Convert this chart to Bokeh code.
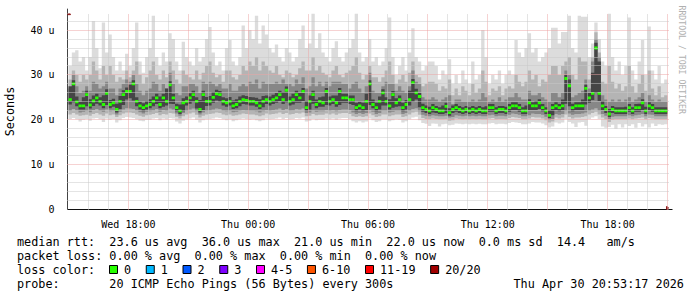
import numpy as np
import pandas as pd
from bokeh.plotting import figure
from bokeh.models import (Range1d, FixedTicker, DatetimeTickFormatter,
                          CustomJSTickFormatter, Title, Arrow, NormalHead)
from bokeh.layouts import column
from bokeh.embed import file_html
from bokeh.resources import INLINE
from bokeh.core.properties import value

# ------------------------------------------------------------------ data
FIRST_SAMPLE = "2026-04-29 15:00"      # 10-minute consolidated samples
STEP_MIN = 10
VIEW_START = "2026-04-29 14:57"
VIEW_END = "2026-04-30 21:03"
Y_MAX = 43.7

# median rtt (us) per sample
median = [
    24.5, 28.0, 24.0, 23.1, 23.1, 25.6, 23.3, 24.2, 24.9, 24.1, 23.4, 25.9,
    23.4, 23.8, 22.3, 24.1, 25.6, 26.3, 26.3, 28.0, 24.1, 23.1, 22.7, 23.1,
    23.4, 24.1, 24.9, 23.4, 24.9, 24.1, 27.8, 24.9, 22.7, 22.0, 23.8, 24.1,
    24.9, 25.6, 24.1, 22.3, 25.6, 24.1, 24.1, 25.0, 25.8, 25.6, 24.1, 23.8,
    24.1, 23.1, 23.4, 24.1, 24.5, 24.3, 24.1, 24.1, 23.8, 23.1, 24.1, 24.5,
    24.1, 24.5, 24.9, 25.6, 24.5, 26.6, 24.1, 24.5, 25.6, 24.9, 26.3, 22.7,
    24.1, 25.6, 23.4, 24.1, 23.8, 26.3, 24.1, 24.5, 23.8, 26.3, 24.9, 24.9,
    24.5, 24.5, 22.7, 23.1, 22.7, 24.1, 28.0, 23.4, 22.7, 24.1, 26.0, 24.1,
    23.1, 25.6, 23.8, 24.5, 22.7, 23.4, 24.5, 28.3, 26.0, 25.2, 22.7, 22.3,
    22.0, 22.7, 22.3, 22.0, 22.0, 23.0, 21.6, 22.3, 22.7, 22.3, 22.0, 22.3,
    22.0, 22.3, 22.0, 22.3, 22.0, 22.0, 22.7, 22.7, 22.0, 22.3, 22.3, 22.0,
    22.7, 23.1, 23.1, 22.7, 22.0, 22.0, 23.8, 23.1, 23.1, 23.8, 22.7, 22.0,
    21.0, 22.7, 23.1, 22.7, 23.1, 29.2, 27.6, 22.7, 23.1, 23.1, 23.1, 27.0,
    24.9, 25.9, 36.0, 25.9, 23.1, 22.3, 21.3, 22.3, 22.0, 22.0, 22.0, 22.0,
    22.7, 22.0, 22.7, 22.7, 23.8, 22.0, 23.1, 22.7, 22.0, 22.0, 22.0, 22.0,
]

# smoke: outermost band (slowest / fastest ping)
smoke_top1 = [
    32, 35, 35.5, 33, 34, 31, 34, 42, 36, 31.5, 41.7, 35,
    39, 34, 31, 33, 31, 34.7, 32, 36, 41.7, 33, 30.5, 34,
    36, 43.2, 34, 32, 35, 33, 39.3, 38, 33, 31, 37.4, 34,
    33, 32, 36, 33, 34, 38, 40.7, 35, 32, 33, 31, 36,
    37.8, 33, 32, 34, 41, 36, 40, 38, 43.2, 37, 41, 39,
    36, 35, 36.8, 34, 33, 36, 35, 33, 34, 38, 41, 36,
    37, 43.7, 36, 39.3, 35, 34, 33, 36, 37.5, 34, 33, 35,
    36, 38, 43.7, 35, 33, 34, 38, 33, 34, 32, 33, 36,
    42.8, 34, 30, 32, 34, 31, 35, 40.4, 34, 33, 31, 32,
    33, 33, 32, 29, 31, 30, 33.5, 28, 30, 28, 31, 29,
    28, 33, 29, 30, 40, 34, 28, 30, 29, 31, 28, 30,
    31, 30, 37.8, 35, 34, 36, 39.3, 35, 36, 33, 34, 35,
    36, 40.5, 40.5, 37, 39.6, 39.6, 43.2, 36, 35, 43.2, 43, 43,
    34, 37, 41.7, 38, 33, 32, 43.7, 34, 31, 33, 30, 32,
    42.8, 31, 29, 33, 37.8, 30, 40.8, 31, 29, 32, 28, 29,
]
smoke_bot1 = [
    20.2, 20.4, 20.1, 19.6, 20.0, 20.2, 19.8, 20.3, 20.4, 20.1, 19.5, 20.3,
    20.0, 20.2, 19.4, 19.9, 20.4, 20.6, 20.5, 20.4, 20.1, 19.8, 19.7, 20.0,
    20.0, 20.3, 20.4, 19.9, 20.3, 20.1, 20.4, 20.3, 19.6, 19.2, 19.8, 20.1,
    20.3, 20.5, 20.0, 19.4, 19.9, 20.1, 20.2, 20.3, 20.5, 20.4, 20.1, 19.9,
    20.1, 19.7, 19.9, 20.1, 20.3, 20.2, 20.0, 20.1, 19.9, 19.7, 19.9, 20.3,
    20.1, 20.2, 20.3, 20.5, 20.2, 20.4, 20.1, 20.2, 20.4, 20.3, 20.5, 19.6,
    19.8, 20.2, 19.9, 20.0, 20.0, 20.3, 20.1, 20.3, 20.0, 20.3, 20.4, 20.4,
    20.2, 19.7, 19.4, 19.7, 19.4, 19.6, 20.3, 19.9, 19.5, 19.7, 20.1, 20.1,
    19.7, 19.9, 20.1, 20.0, 19.4, 19.7, 20.1, 20.5, 20.7, 19.9, 19.3, 19.1,
    18.6, 19.2, 19.1, 18.5, 19.0, 19.1, 18.8, 18.9, 19.2, 19.1, 19.0, 19.1,
    19.0, 19.1, 19.0, 19.1, 19.0, 19.0, 19.2, 19.3, 19.0, 19.1, 19.1, 19.0,
    19.3, 19.5, 19.4, 19.3, 19.0, 19.0, 19.2, 19.5, 19.4, 19.4, 19.2, 18.8,
    18.3, 18.5, 19.4, 19.2, 19.4, 20.2, 19.5, 19.2, 18.4, 19.4, 19.5, 18.7,
    20.2, 20.5, 20.8, 20.2, 18.5, 18.2, 18.4, 18.9, 18.0, 19.0, 18.3, 19.0,
    18.6, 19.0, 18.2, 19.3, 18.5, 19.0, 18.3, 19.2, 18.6, 19.0, 18.9, 19.0,
]
# second band
smoke_top2 = [
    29, 31, 30, 28.5, 30, 29, 30, 33, 31, 29, 32, 30,
    32, 30, 28.5, 29.5, 29, 31, 29.5, 31, 33, 30, 28, 29.5,
    31, 33, 30, 29, 31, 29.5, 33, 31, 29, 28, 31, 30,
    29.5, 29, 31, 29, 30.5, 32, 33, 30.5, 29.5, 30, 28.5, 31,
    31, 29.5, 29, 30, 32, 31, 33, 32, 34, 31, 33, 32,
    31, 30.5, 32, 30, 29.5, 31, 30.5, 29.5, 30, 31.5, 33, 31,
    31, 34, 31, 32, 30.5, 30, 29.5, 31, 32, 30, 29.5, 30.5,
    31, 32, 34, 30.5, 29, 30, 32, 29.5, 29.5, 28.5, 29.5, 31,
    33, 30, 28, 29, 30, 28.5, 30.5, 33, 30, 29.5, 27.5, 28,
    28.5, 28.5, 28, 26.5, 27.5, 27, 29, 25.5, 27, 25.5, 27.5, 26.5,
    25.5, 28, 26, 27, 31, 28.5, 25.5, 27, 26.5, 27.5, 25.5, 27,
    27.5, 27, 30, 28.5, 27.5, 28.5, 31, 29, 30, 27.5, 29, 28.5,
    30, 32, 32, 30, 32, 33, 34, 30, 29, 34, 33, 33,
    29, 34, 39.5, 35, 28.5, 28, 32, 28.5, 27, 28, 26.5, 27.5,
    32, 27.5, 26, 28, 30, 26.5, 31, 27, 25.5, 27.5, 25, 25.5,
]
smoke_bot2 = [
    21.2, 21.5, 21.2, 20.9, 21.0, 21.1, 20.9, 21.3, 21.5, 21.2, 20.9, 21.4,
    21.0, 21.2, 20.6, 21.0, 21.4, 21.6, 21.6, 21.5, 21.2, 20.9, 20.7, 21.0,
    21.1, 21.3, 21.5, 21.0, 21.3, 21.2, 21.5, 21.4, 20.7, 20.3, 20.8, 21.2,
    21.4, 21.6, 21.1, 20.5, 20.9, 21.2, 21.3, 21.4, 21.6, 21.5, 21.2, 21.0,
    21.2, 20.9, 21.0, 21.2, 21.4, 21.3, 21.2, 21.2, 21.0, 20.8, 21.0, 21.4,
    21.2, 21.3, 21.4, 21.6, 21.3, 21.5, 21.2, 21.3, 21.5, 21.4, 21.6, 20.8,
    20.9, 21.3, 21.0, 21.1, 21.1, 21.4, 21.2, 21.4, 21.1, 21.4, 21.5, 21.5,
    21.3, 20.8, 20.6, 20.8, 20.6, 20.8, 21.4, 21.0, 20.6, 20.8, 21.2, 21.2,
    20.8, 21.0, 21.2, 21.2, 20.6, 20.8, 21.2, 21.6, 21.8, 21.1, 20.4, 20.2,
    20.1, 20.3, 20.2, 20.1, 20.1, 20.2, 19.8, 19.9, 20.3, 20.2, 20.1, 20.2,
    20.1, 20.2, 20.1, 20.2, 20.1, 20.1, 20.3, 20.4, 20.1, 20.2, 20.2, 20.1,
    20.4, 20.6, 20.5, 20.4, 20.1, 20.1, 20.3, 20.6, 20.5, 20.5, 20.3, 19.9,
    19.4, 19.6, 20.5, 20.3, 20.5, 21.2, 20.6, 20.3, 20.5, 20.5, 20.6, 20.8,
    21.2, 21.5, 21.8, 21.2, 20.5, 20.1, 19.5, 20.0, 20.1, 20.1, 20.1, 20.1,
    20.3, 20.1, 20.3, 20.4, 20.5, 20.1, 20.4, 20.3, 20.1, 20.1, 20.1, 20.1,
]
# third band
smoke_top3 = [
    27, 30, 27.5, 26, 26.5, 27.5, 26.5, 28.5, 28, 27, 27.5, 28.5,
    27, 27, 25.5, 27, 28, 29, 28.5, 30, 28, 26.5, 25.5, 26.5,
    27, 28.5, 28, 26.5, 28, 27, 30.5, 28, 26, 25.5, 27.5, 27.5,
    28, 28, 27.5, 26, 28.5, 28, 28.5, 28, 27.5, 28, 27, 27,
    28, 26.5, 26.5, 27.5, 28, 27.5, 28.5, 28, 29, 27, 28.5, 28,
    28, 28, 28.5, 28, 29, 28, 28, 27.5, 29, 28, 29.5, 27,
    27.5, 29.5, 27.5, 28.5, 27.5, 28.5, 27.5, 28.5, 28.5, 28.5, 28, 28,
    27, 28, 28.5, 27, 26, 27.5, 30.5, 26.5, 26, 26, 27.5, 28.5,
    28, 28, 26.5, 27.5, 26.5, 26, 27.5, 31, 28.5, 28, 25, 24.5,
    24.5, 25, 24.5, 24, 24.5, 25, 25.5, 23.5, 24.5, 24.5, 24, 24,
    24, 24.5, 24, 24.5, 26, 25, 24, 24.5, 24, 25, 24, 24.5,
    25, 25, 26, 25, 24.5, 24.5, 26.5, 25.5, 25.5, 26, 25, 24.5,
    24, 26, 26, 25, 26, 31, 30, 25, 25.5, 26, 26.5, 29,
    27, 33, 38, 34, 25.5, 24.5, 24, 24.5, 24, 24.5, 24, 24.5,
    25, 24, 24.5, 25, 26, 24, 25.5, 24.5, 24, 24.5, 24, 24,
]
smoke_bot3 = [
    22.0, 22.4, 22.1, 21.6, 21.8, 22.0, 21.7, 22.2, 22.4, 22.0, 21.8, 22.3,
    21.9, 22.0, 21.2, 21.8, 22.3, 22.6, 22.5, 22.4, 22.1, 21.7, 21.4, 21.8,
    21.9, 22.1, 22.4, 21.8, 22.2, 22.0, 22.5, 22.3, 21.4, 20.9, 21.5, 22.0,
    22.3, 22.5, 21.9, 21.2, 21.6, 22.0, 22.1, 22.3, 22.5, 22.4, 22.0, 21.9,
    22.0, 21.7, 21.8, 22.0, 22.2, 22.1, 22.0, 22.0, 21.9, 21.6, 21.9, 22.2,
    22.0, 22.2, 22.3, 22.5, 22.2, 22.4, 22.0, 22.1, 22.4, 22.3, 22.5, 21.5,
    21.6, 22.1, 21.8, 21.9, 21.9, 22.2, 22.0, 22.2, 21.9, 22.2, 22.3, 22.3,
    22.2, 21.6, 21.3, 21.5, 21.3, 21.5, 22.2, 21.8, 21.3, 21.5, 22.0, 22.0,
    21.6, 21.8, 22.0, 22.0, 21.3, 21.5, 22.0, 22.4, 22.6, 21.9, 21.1, 20.9,
    20.8, 21.0, 20.9, 20.8, 20.8, 20.9, 20.5, 20.6, 21.0, 20.9, 20.8, 20.9,
    20.8, 20.9, 20.8, 20.9, 20.8, 20.8, 21.0, 21.1, 20.8, 20.9, 20.9, 20.8,
    21.1, 21.4, 21.3, 21.1, 20.8, 20.8, 21.0, 21.4, 21.3, 21.3, 21.1, 20.7,
    20.0, 20.2, 21.3, 21.1, 21.3, 22.0, 21.4, 21.1, 21.3, 21.3, 21.4, 21.6,
    22.0, 22.3, 22.6, 22.0, 21.3, 20.9, 20.2, 20.7, 20.8, 20.8, 20.8, 20.8,
    21.0, 20.8, 21.0, 21.1, 21.3, 20.8, 21.2, 21.1, 20.8, 20.8, 20.8, 20.8,
]
# innermost band (pings around the median)
smoke_top4 = [
    27.5, 28.8, 25.2, 24.0, 25.0, 26.5, 24.6, 25.4, 25.8, 25.0, 25.5, 26.8,
    24.4, 24.7, 23.6, 25.3, 26.6, 27.2, 27.8, 28.8, 25.0, 24.0, 23.7, 24.2,
    24.6, 25.2, 25.8, 25.2, 25.8, 27.0, 28.6, 25.8, 23.6, 23.4, 24.8, 25.2,
    25.9, 26.5, 25.0, 24.4, 26.5, 25.1, 25.3, 26.2, 26.7, 26.4, 25.0, 24.8,
    25.1, 24.3, 24.6, 25.2, 25.5, 25.3, 25.1, 25.0, 24.9, 24.6, 25.3, 25.4,
    25.2, 25.6, 26.0, 26.5, 26.2, 27.4, 25.2, 25.8, 26.5, 26.0, 27.1, 24.2,
    25.4, 26.5, 24.5, 25.0, 25.2, 27.1, 25.2, 25.4, 25.4, 27.1, 25.8, 25.8,
    25.4, 25.4, 23.8, 24.0, 23.8, 25.8, 28.8, 24.5, 23.8, 25.2, 26.8, 25.0,
    24.6, 26.4, 24.8, 25.4, 23.8, 24.4, 26.5, 29.1, 26.9, 26.0, 23.6, 23.2,
    22.9, 23.5, 23.1, 22.8, 23.2, 23.8, 22.6, 23.2, 23.5, 23.1, 22.8, 23.1,
    22.8, 23.1, 22.8, 23.1, 22.8, 23.0, 23.5, 23.5, 22.8, 23.1, 23.1, 22.9,
    23.5, 23.9, 23.9, 23.5, 22.8, 23.2, 24.6, 23.9, 24.2, 24.6, 23.5, 22.8,
    22.2, 23.5, 23.9, 23.5, 24.5, 30.0, 29.0, 23.6, 23.9, 23.9, 24.5, 27.8,
    26.0, 30.5, 37.2, 33.0, 24.2, 23.1, 22.4, 23.1, 22.8, 22.8, 22.8, 22.9,
    23.5, 22.8, 23.5, 23.6, 24.6, 22.9, 23.9, 23.5, 22.8, 22.8, 22.8, 22.8,
]
smoke_bot4 = [
    23.4, 23.9, 23.0, 22.3, 22.3, 23.0, 22.5, 23.1, 23.6, 23.2, 22.6, 23.3,
    22.6, 22.9, 21.6, 22.4, 23.3, 24.5, 24.8, 24.3, 23.0, 22.3, 21.9, 22.3,
    22.6, 23.0, 23.5, 22.6, 22.9, 23.2, 23.6, 23.5, 21.9, 21.3, 21.9, 23.2,
    23.6, 24.0, 22.5, 21.6, 22.2, 23.1, 23.2, 23.8, 24.3, 24.0, 23.2, 22.9,
    23.2, 22.4, 22.6, 23.0, 23.5, 23.4, 23.2, 23.2, 22.9, 22.4, 22.8, 23.5,
    23.2, 23.5, 23.8, 24.2, 23.5, 23.9, 23.2, 23.4, 23.8, 23.8, 24.2, 22.0,
    22.3, 23.6, 22.6, 22.9, 22.9, 23.3, 23.2, 23.5, 22.9, 23.3, 23.8, 23.8,
    23.5, 23.3, 21.9, 22.3, 21.9, 22.2, 23.3, 22.6, 21.9, 22.3, 23.2, 23.2,
    22.3, 22.7, 22.9, 23.0, 21.9, 22.3, 23.2, 24.0, 24.5, 22.8, 21.8, 21.5,
    21.3, 21.6, 21.5, 21.3, 21.3, 21.5, 20.9, 21.5, 21.8, 21.5, 21.3, 21.5,
    21.3, 21.5, 21.3, 21.5, 21.3, 21.3, 21.8, 21.8, 21.3, 21.5, 21.5, 21.3,
    21.8, 22.2, 22.2, 21.8, 21.3, 21.3, 22.2, 22.2, 22.2, 22.4, 21.9, 21.3,
    20.4, 21.0, 22.2, 21.9, 22.2, 23.6, 23.0, 21.9, 22.2, 22.2, 22.2, 23.4,
    23.8, 24.4, 26.0, 24.2, 22.2, 21.5, 20.6, 21.5, 21.3, 21.3, 21.3, 21.3,
    21.8, 21.3, 21.8, 21.8, 22.2, 21.3, 22.2, 21.8, 21.3, 21.3, 21.3, 21.3,
]

x_tick_times = ["2026-04-29 18:00", "2026-04-30 00:00", "2026-04-30 06:00",
                "2026-04-30 12:00", "2026-04-30 18:00"]
y_ticks = [0, 10, 20, 30, 40]

loss_labels = ["0", "1", "2", "3", "4-5", "6-10", "11-19", "20/20"]
loss_colors = ["#26ff00", "#00b8ff", "#0059ff", "#7e00ff", "#ff00ff",
               "#ff5500", "#ff0000", "#a10000"]

legend_lines = [
    "median rtt:  23.6 us avg  36.0 us max  21.0 us min  22.0 us now  0.0 ms sd  14.4   am/s",
    "packet loss: 0.00 % avg  0.00 % max  0.00 % min  0.00 % now",
    "loss color:",
    "probe:       20 ICMP Echo Pings (56 Bytes) every 300s",
]
stamp = "Thu Apr 30 20:53:17 2026"
credit = "RRDTOOL / TOBI OETIKER"

# ------------------------------------------------------------------ helpers
n = len(median)
for arr in (smoke_top1, smoke_bot1, smoke_top2, smoke_bot2, smoke_top3,
            smoke_bot3, smoke_top4, smoke_bot4):
    assert len(arr) == n, len(arr)


def ms(ts):
    return pd.Timestamp(ts).value / 1e6


step_ms = STEP_MIN * 60 * 1000
left = ms(FIRST_SAMPLE) + step_ms * np.arange(n)
right = left + step_ms
xs = np.empty(2 * n)
xs[0::2] = left
xs[1::2] = right


def stepped(a):
    return np.repeat(np.asarray(a, dtype=float), 2)


MONO = "DejaVu Sans Mono"
NBSP = "\u00a0"
x0, x1 = ms(VIEW_START), ms(VIEW_END)

# ------------------------------------------------------------------ main plot
p = figure(width=697, height=232, x_axis_type="datetime",
           x_range=Range1d(x0, x1), y_range=Range1d(0, Y_MAX),
           output_backend="svg", toolbar_location=None,
           min_border_left=67, min_border_right=28,
           min_border_top=13, min_border_bottom=17)
p.frame_align = False
p.outline_line_color = None
p.background_fill_color = "white"
p.border_fill_color = "white"

band_colors = ["#dcdcdc", "#b4b4b4", "#878787", "#454545"]
bands = [(smoke_bot1, smoke_top1), (smoke_bot2, smoke_top2),
         (smoke_bot3, smoke_top3), (smoke_bot4, smoke_top4)]
for (lo, hi), col in zip(bands, band_colors):
    p.varea(x=xs, y1=stepped(lo), y2=stepped(hi), fill_color=col)

med = np.asarray(median, dtype=float)
p.quad(left=left, right=right, bottom=med - 0.32, top=med + 0.32,
       fill_color=loss_colors[0], line_color=None)

# axes
xa = p.xaxis[0]
xa.ticker = FixedTicker(ticks=[ms(t) for t in x_tick_times])
fmt = "%a %H:%M"
xa.formatter = DatetimeTickFormatter(hours=fmt, hourmin=fmt, days=fmt,
                                     minutes=fmt, minsec=fmt)
xa.major_label_text_font = MONO
xa.major_label_text_font_size = "10px"
xa.major_label_text_color = "black"
xa.major_label_standoff = 3
xa.major_tick_line_color = None
xa.minor_tick_line_color = None
xa.axis_line_color = "#111111"

ya = p.yaxis[0]
ya.ticker = FixedTicker(ticks=y_ticks)
ya.formatter = CustomJSTickFormatter(code="return tick == 0 ? '0' : tick + ' u';")
ya.major_label_text_font = MONO
ya.major_label_text_font_size = "10px"
ya.major_label_text_color = "black"
ya.major_label_standoff = 7
ya.major_tick_line_color = None
ya.minor_tick_line_color = None
ya.axis_line_color = "#444444"
ya.axis_label = "Seconds"
ya.axis_label_text_font = MONO
ya.axis_label_text_font_size = "11.8px"
ya.axis_label_text_font_style = "normal"
ya.axis_label_text_color = "black"
ya.axis_label_standoff = 10

# grid (drawn over the smoke, as rrdtool does)
g_major = [ms(t) for t in pd.date_range("2026-04-29 18:00", "2026-04-30 21:00", freq="3h")]
g_all = [ms(t) for t in pd.date_range("2026-04-29 16:00", "2026-04-30 21:00", freq="1h")]
g_minor = [t for t in g_all if t not in g_major]
p.xgrid.ticker = FixedTicker(ticks=g_major, minor_ticks=g_minor)
p.ygrid.ticker = FixedTicker(ticks=[10, 20, 30, 40],
                             minor_ticks=[v for v in range(2, 44, 2) if v % 10])
for g in (p.xgrid[0], p.ygrid[0]):
    g.level = "overlay"
    g.grid_line_color = "#eca4a4"
    g.grid_line_dash = "1 1"
    g.grid_line_width = 1
    g.minor_grid_line_color = "#c8c8c8"
    g.minor_grid_line_dash = "1 1"
    g.minor_grid_line_width = 1

# axis arrows
arrow_col = "#8e1b1b"
p.add_layout(Arrow(end=NormalHead(size=6, fill_color=arrow_col, line_color=arrow_col),
                   x_start=x1, y_start=0, x_end=x1 + 4 * 180000, y_end=0,
                   line_color="#111111", line_width=1))
p.add_layout(Arrow(end=NormalHead(size=6, fill_color=arrow_col, line_color=arrow_col),
                   x_start=x0, y_start=Y_MAX, x_end=x0, y_end=Y_MAX + 5 / 4.622,
                   line_color="#444444", line_width=1))

# vertical credit text on the right side
p.add_layout(Title(text=credit, align="left", text_font=MONO,
                   text_font_size="8.2px", text_font_style="normal",
                   text_color="#b0b0b0", standoff=17, offset=-8), "right")

# ------------------------------------------------------------------ legend strip
lg = figure(width=697, height=65, x_range=Range1d(0, 697), y_range=Range1d(65, 0),
            output_backend="svg", toolbar_location=None,
            x_axis_location=None, y_axis_location=None, min_border=0,
            min_border_left=0, min_border_right=0, min_border_top=0, min_border_bottom=0)
lg.frame_align = False
lg.grid.visible = False
lg.outline_line_color = None
lg.background_fill_color = "white"
lg.border_fill_color = "white"


def keep_spaces(s):
    return s.replace(" ", NBSP)


line_y = [9, 23.7, 37, 51.3]
lg.text(x=[16.5] * 4, y=line_y, text=[keep_spaces(t) for t in legend_lines],
        text_font=value(MONO), text_font_size="11.8px",
        text_baseline="middle", text_color="black")
lg.text(x=[513], y=[line_y[3]], text=[keep_spaces(stamp)], text_font=value(MONO),
        text_font_size="11.8px", text_baseline="middle", text_color="black")

bx, tx = [], []
cur = 109.0
for lab in loss_labels:
    bx.append(cur)
    tx.append(cur + 14.5)
    cur += 29.65 + 7.1 * len(lab)
bx = np.array(bx)
lg.quad(left=bx, right=bx + 8, top=line_y[2] - 4, bottom=line_y[2] + 4,
        fill_color=loss_colors, line_color="black", line_width=1)
lg.text(x=tx, y=[line_y[2]] * len(tx), text=loss_labels, text_font=value(MONO),
        text_font_size="11.8px", text_baseline="middle", text_color="black")

layout = column(p, lg, spacing=0)
open("out.html", "w").write(file_html(layout, INLINE))
